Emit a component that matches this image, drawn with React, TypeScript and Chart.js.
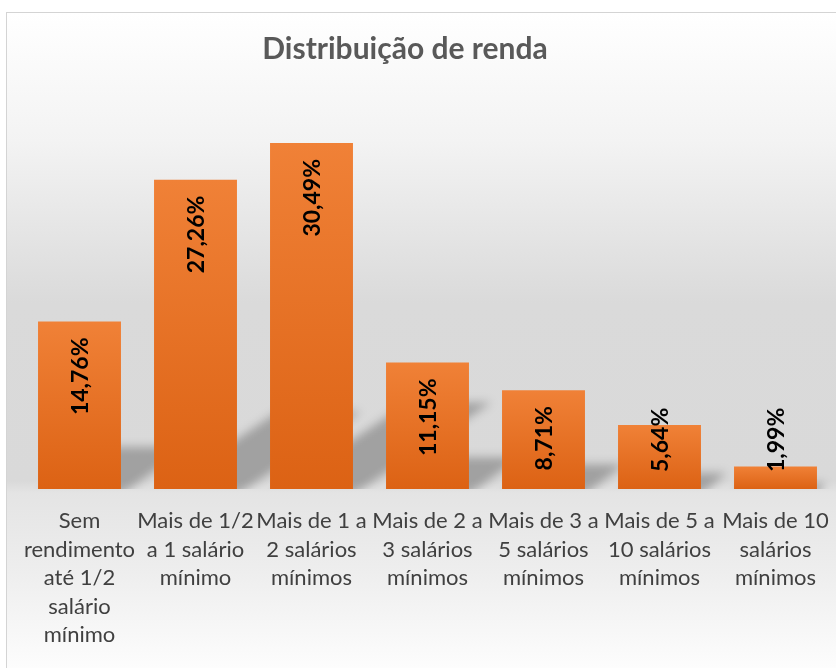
import React, { useEffect, useRef } from "react";
import { Chart, registerables } from "chart.js";

Chart.register(...registerables);

const chartTitle = "Distribuição de renda";

const categories: string[][] = [
  ["Sem", "rendimento", "até 1/2", "salário", "mínimo"],
  ["Mais de 1/2", "a 1 salário", "mínimo"],
  ["Mais de 1 a", "2 salários", "mínimos"],
  ["Mais de 2 a", "3 salários", "mínimos"],
  ["Mais de 3 a", "5 salários", "mínimos"],
  ["Mais de 5 a", "10 salários", "mínimos"],
  ["Mais de 10", "salários", "mínimos"],
];

const shares = [14.76, 27.26, 30.49, 11.15, 8.71, 5.64, 1.99];

const axisMax = 35;

const fmt = (v: number) => v.toFixed(2).replace(".", ",") + "%";

const shadowPlugin = {
  id: "barShadow",
  beforeDatasetsDraw(chart: any) {
    const { ctx, chartArea } = chart;
    const meta = chart.getDatasetMeta(0);
    ctx.save();
    ctx.beginPath();
    ctx.rect(chartArea.left - 30, chartArea.top, chartArea.right - chartArea.left + 60, chartArea.bottom - chartArea.top);
    ctx.clip();
    ctx.filter = "blur(5px)";
    ctx.fillStyle = "rgba(0,0,0,0.26)";
    meta.data.forEach((bar: any) => {
      const h = bar.base - bar.y;
      const x0 = bar.x - bar.width / 2;
      const x1 = bar.x + bar.width / 2;
      const dx = 0.4 * h;
      const dy = 0.25 * h;
      ctx.beginPath();
      ctx.moveTo(x0, bar.base + 6);
      ctx.lineTo(x1, bar.base + 6);
      ctx.lineTo(x1 + dx, bar.base - dy);
      ctx.lineTo(x0 + dx, bar.base - dy);
      ctx.closePath();
      ctx.fill();
    });
    ctx.restore();
  },
};

const labelPlugin = {
  id: "barLabels",
  afterDatasetsDraw(chart: any) {
    const { ctx } = chart;
    const meta = chart.getDatasetMeta(0);
    ctx.save();
    ctx.font = "bold 23px Lato";
    ctx.fillStyle = "#000000";
    ctx.textAlign = "right";
    ctx.textBaseline = "middle";
    meta.data.forEach((bar: any, i: number) => {
      const txt = fmt(shares[i]);
      const w = ctx.measureText(txt).width;
      const top = Math.min(bar.y + 16, bar.base - 17 - w);
      ctx.save();
      ctx.translate(bar.x + 1, top);
      ctx.rotate(-Math.PI / 2);
      ctx.fillText(txt, 0, 0);
      ctx.restore();
    });
    ctx.restore();
  },
};

const titlePlugin = {
  id: "customTitle",
  afterDraw(chart: any) {
    const { ctx } = chart;
    ctx.save();
    ctx.font = "bold 30px Lato";
    ctx.fillStyle = "#595959";
    ctx.textAlign = "center";
    ctx.textBaseline = "alphabetic";
    ctx.fillText(chartTitle, 405, 59);
    ctx.restore();
  },
};

export default function App() {
  const canvasRef = useRef<HTMLCanvasElement | null>(null);

  useEffect(() => {
    const canvas = canvasRef.current;
    if (!canvas) return;
    const chart = new Chart(canvas, {
      type: "bar",
      data: {
        labels: categories,
        datasets: [
          {
            data: shares,
            backgroundColor: (c: any) => {
              const ch = c.chart;
              const y = ch.scales?.y;
              if (!y || c.raw == null) return "#e87024";
              const top = y.getPixelForValue(c.raw);
              const base = y.getPixelForValue(0);
              if (!isFinite(top) || !isFinite(base) || base - top < 1) return "#e87024";
              const g = ch.ctx.createLinearGradient(0, top, 0, base);
              g.addColorStop(0, "#f08137");
              g.addColorStop(1, "#dc6214");
              return g;
            },
            borderWidth: 0,
            barPercentage: 0.715,
            categoryPercentage: 1,
          },
        ],
      },
      options: {
        animation: false,
        responsive: false,
        maintainAspectRatio: false,
        layout: { padding: { left: 21.5, right: 2.5, top: 91.8, bottom: 18.5 } },
        plugins: {
          legend: { display: false },
          title: { display: false },
          tooltip: { enabled: false },
        },
        scales: {
          x: {
            grid: { display: false, drawTicks: false },
            border: { display: false },
            ticks: {
              color: "#404040",
              font: { family: "Lato", size: 22, lineHeight: "28.5px" },
              padding: 18,
              maxRotation: 0,
              autoSkip: false,
            },
            afterFit: (scale: any) => {
              scale.paddingLeft = 0;
              scale.paddingRight = 0;
              scale.height = 160.5;
            },
          },
          y: {
            display: false,
            min: 0,
            max: axisMax,
          },
        },
      },
      plugins: [shadowPlugin, labelPlugin, titlePlugin],
    });
    return () => chart.destroy();
  }, []);

  return (
    <div style={{ position: "fixed", left: 0, top: 0, width: 836, height: 668, overflow: "hidden", background: "#ffffff" }}>
      <div
        style={{
          position: "absolute",
          left: 6,
          top: 12,
          width: 860,
          height: 690,
          border: "1px solid #d4d4d4",
          background:
            "linear-gradient(to bottom, #ffffff 0px, #f3f3f3 128px, #dadada 290px, #d9d9d9 468px, #e4e4e4 480px, #eeeeee 560px, #fdfdfd 656px, #ffffff 690px)",
        }}
      />
      <canvas
        ref={canvasRef}
        width={836}
        height={668}
        style={{ position: "absolute", left: 0, top: 0, width: 836, height: 668, display: "block" }}
      />
    </div>
  );
}
